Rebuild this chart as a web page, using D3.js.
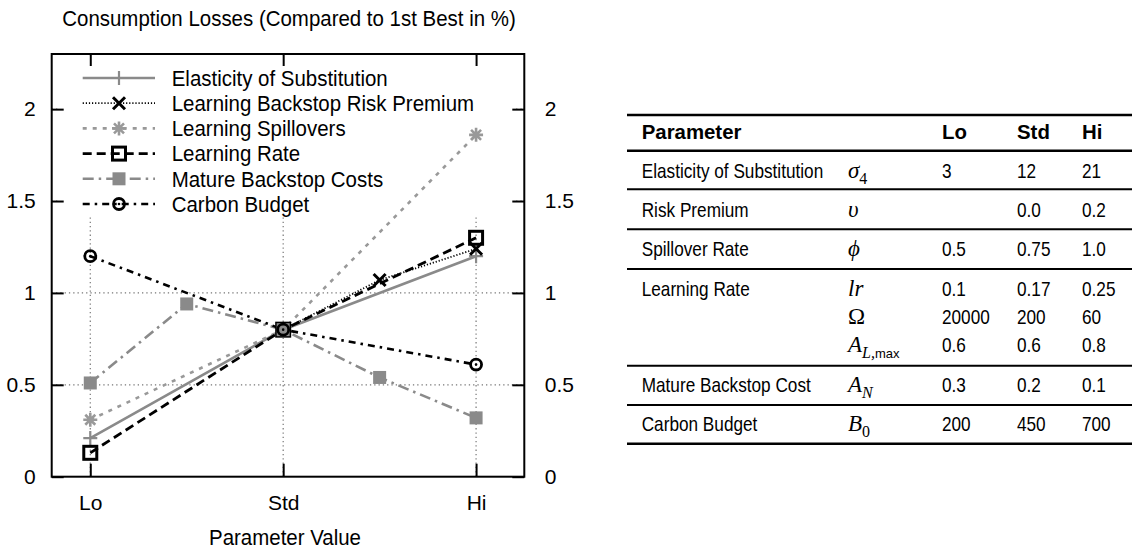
<!DOCTYPE html>
<html>
<head>
<meta charset="utf-8">
<script src="https://cdn.jsdelivr.net/npm/d3@7"></script>
<style>
body { margin: 0; background: #fff; }
svg { display: block; font-family: "Liberation Sans", Arial, sans-serif; }
</style>
</head>
<body>
<script>
const WIDTH = 1134
const HEIGHT = 557

// --- chart values ---
const levels = ["Lo", "Std", "Hi"]
const levelPos = [0, 1, 2]
const yTicks = [0, 0.5, 1, 1.5, 2]

const seriesNames = ["Elasticity of Substitution", "Learning Backstop Risk Premium", "Learning Spillovers",
  "Learning Rate", "Mature Backstop Costs", "Carbon Budget"]

const elasticityX = [0, 1, 2]
const elasticityY = [0.21, 0.8, 1.2]
const riskPremiumX = [1, 1.5, 2]
const riskPremiumY = [0.8, 1.07, 1.24]
const spilloverX = [0, 1, 2]
const spilloverY = [0.31, 0.8, 1.86]
const learningRateX = [0, 1, 2]
const learningRateY = [0.13, 0.8, 1.3]
const matureX = [0, 0.5, 1, 1.5, 2]
const matureY = [0.51, 0.94, 0.8, 0.54, 0.32]
const carbonX = [0, 1, 2]
const carbonY = [1.2, 0.8, 0.61]

// --- table values ---
const tableHead = ["Parameter", "", "Lo", "Std", "Hi"]
const paramNames = ["Elasticity of Substitution", "Risk Premium", "Spillover Rate", "Learning Rate", "Mature Backstop Cost", "Carbon Budget"]
const paramSymbols = [
  [["σ4"]],
  [["υ"]],
  [["ϕ"]],
  [["lr"], ["Ω"], ["AL,max"]],
  [["AN"]],
  [["B0"]]
]
const loValues = [["3"], [""], ["0.5"], ["0.1", "20000", "0.6"], ["0.3"], ["200"]]
const stdValues = [["12"], ["0.0"], ["0.75"], ["0.17", "200", "0.6"], ["0.2"], ["450"]]
const hiValues = [["21"], ["0.2"], ["1.0"], ["0.25", "60", "0.8"], ["0.1"], ["700"]]

const svg = d3.select("body").append("svg").attr("width", WIDTH).attr("height", HEIGHT)

const x = d3.scaleLinear().domain([-0.2, 2.25]).range([51.7, 524.3])
const y = d3.scaleLinear().domain([0, 2.3]).range([476.7, 54])
const FS = 22
const SX = 0.93

// grid
const grid = svg.append("g").attr("stroke", "#777").attr("stroke-width", 1.2).attr("stroke-dasharray", "1.3,3")
grid.selectAll(".gy").data(yTicks.slice(1)).enter().append("line")
  .attr("x1", x.range()[0]).attr("x2", x.range()[1]).attr("y1", d => y(d)).attr("y2", d => y(d))
grid.selectAll(".gx").data(levelPos).enter().append("line")
  .attr("x1", d => x(d)).attr("x2", d => x(d)).attr("y1", y.range()[0]).attr("y2", y.range()[1])

// opaque key box
svg.append("rect").attr("x", 60).attr("y", 56).attr("width", 454).attr("height", 161).attr("fill", "#fff")

const styles = [
  { color: "#8a8a8a", width: 2.6, dash: null, marker: "plus" },
  { color: "#000", width: 1.8, dash: "1.2,1.9", marker: "cross" },
  { color: "#999", width: 2.6, dash: "4,6", marker: "star" },
  { color: "#000", width: 2.8, dash: "9,5", marker: "square" },
  { color: "#8a8a8a", width: 2.6, dash: "11,5,2.5,5", marker: "filled" },
  { color: "#000", width: 2.6, dash: "7,5,2.5,5", marker: "circle" }
]
const seriesData = [
  d3.zip(elasticityX, elasticityY),
  d3.zip(riskPremiumX, riskPremiumY),
  d3.zip(spilloverX, spilloverY),
  d3.zip(learningRateX, learningRateY),
  d3.zip(matureX, matureY),
  d3.zip(carbonX, carbonY)
]

function marker(g, type, cx, cy, color) {
  const m = g.append("g").attr("transform", `translate(${cx},${cy})`)
  if (type == "plus") {
    m.append("path").attr("d", "M-7,0H7M0,-7V7").attr("stroke", color).attr("stroke-width", 2.2)
  } else if (type == "cross") {
    m.append("path").attr("d", "M-6,-6L6,6M-6,6L6,-6").attr("stroke", color).attr("stroke-width", 3)
  } else if (type == "star") {
    m.append("path").attr("d", "M-7,0H7M0,-7V7M-5,-5L5,5M-5,5L5,-5").attr("stroke", color).attr("stroke-width", 2.6)
  } else if (type == "square") {
    m.append("rect").attr("x", -6.5).attr("y", -6.5).attr("width", 13).attr("height", 13)
      .attr("fill", "none").attr("stroke", color).attr("stroke-width", 3)
  } else if (type == "filled") {
    m.append("rect").attr("x", -6.5).attr("y", -6.5).attr("width", 13).attr("height", 13).attr("fill", color)
  } else if (type == "circle") {
    m.append("circle").attr("r", 5.5).attr("fill", "none").attr("stroke", color).attr("stroke-width", 2.8)
    m.append("circle").attr("r", 1.3).attr("fill", color)
  }
}

const line = d3.line().x(d => x(d[0])).y(d => y(d[1]))
const lines = svg.append("g")
seriesData.forEach((data, i) => {
  const s = styles[i]
  lines.append("path").datum(data).attr("d", line).attr("fill", "none")
    .attr("stroke", s.color).attr("stroke-width", s.width).attr("stroke-dasharray", s.dash)
})
const marks = svg.append("g")
seriesData.forEach((data, i) => {
  data.forEach(d => marker(marks, styles[i].marker, x(d[0]), y(d[1]), styles[i].color))
})

// chart text, slightly narrowed like the original
function label(g, str, tx, ty, anchor) {
  return g.append("text").attr("transform", `translate(${tx},${ty}) scale(${SX},1)`)
    .attr("text-anchor", anchor || "start").attr("font-size", FS).text(str)
}

// legend
const legend = svg.append("g")
seriesNames.forEach((name, i) => {
  const s = styles[i]
  const ly = 78 + i * 25.2
  legend.append("line").attr("x1", 82.7).attr("x2", 155).attr("y1", ly).attr("y2", ly)
    .attr("stroke", s.color).attr("stroke-width", s.width).attr("stroke-dasharray", s.dash)
  marker(legend, s.marker, 119, ly, s.color)
  label(legend, name, 171.7, ly + 7.8)
})

// axes
function styleAxis(g) {
  g.select(".domain").remove()
  g.selectAll(".tick line").attr("stroke", "#000").attr("stroke-width", 2)
  g.selectAll("text").attr("font-size", 21).attr("fill", "#000").attr("font-family", null)
}
const fmt = d3.format("~g")
svg.append("g").attr("transform", `translate(${x.range()[0]},0)`)
  .call(d3.axisLeft(y).tickValues(yTicks).tickFormat(fmt).tickSize(-12).tickPadding(16)).call(styleAxis)
svg.append("g").attr("transform", `translate(${x.range()[1]},0)`)
  .call(d3.axisRight(y).tickValues(yTicks).tickFormat(fmt).tickSize(-12).tickPadding(20.5)).call(styleAxis)
svg.append("g").attr("transform", `translate(0,${y.range()[0]})`)
  .call(d3.axisBottom(x).tickValues(levelPos).tickFormat((d, i) => levels[i]).tickSize(-13).tickPadding(18)).call(styleAxis)
svg.append("g").attr("transform", `translate(0,${y.range()[1]})`)
  .call(d3.axisTop(x).tickValues(levelPos).tickFormat("").tickSize(-12)).call(styleAxis)

svg.append("rect").attr("x", x.range()[0]).attr("y", y.range()[1])
  .attr("width", x.range()[1] - x.range()[0]).attr("height", y.range()[0] - y.range()[1])
  .attr("fill", "none").attr("stroke", "#000").attr("stroke-width", 2)

label(svg, "Consumption Losses (Compared to 1st Best in %)", 289, 26, "middle")
label(svg, "Parameter Value", 285, 545, "middle")

// --- table ---
const tbl = svg.append("g")
const colX = [641.7, 848, 942, 1017, 1082]
const TL = 627, TR = 1132
const rules = [[115, 2.6], [150.7, 2.6], [189.3, 2], [229.3, 2], [269, 2], [365.7, 2], [405, 2], [443.7, 2.6]]
rules.forEach(r => tbl.append("line").attr("x1", TL).attr("x2", TR).attr("y1", r[0]).attr("y2", r[0])
  .attr("stroke", "#000").attr("stroke-width", r[1]))

function cell(str, cx, by, opts) {
  const t = tbl.append("text").attr("transform", `translate(${cx},${by}) scale(${opts.sx || 0.86},1)`)
    .attr("font-size", opts.size || 20).text(str)
  if (opts.bold) t.attr("font-weight", "bold")
  return t
}
tableHead.forEach((h, i) => { if (h) cell(h, colX[i], 138.5, { bold: true, size: 20, sx: 1.02 }) })

const rowBase = [178, 216.5, 256, 296, 392, 431]
const subStep = 27.8

function symbol(spec, cx, by) {
  const t = tbl.append("text").attr("x", cx).attr("y", by)
    .attr("font-family", "'Liberation Serif', 'DejaVu Serif', serif").attr("font-size", 23)
  const s = spec[0]
  const main = s[0]
  const sub = s.slice(1)
  if (main == "Ω") t.append("tspan").text(main)
  else if (main == "l") { t.append("tspan").attr("font-style", "italic").text(s) ; return }
  else t.append("tspan").attr("font-style", "italic").text(main)
  if (!sub) return
  if (sub == "L,max") {
    t.append("tspan").attr("font-style", "italic").attr("font-size", 16).attr("dy", 6).text("L,")
    t.append("tspan").attr("font-family", "'Liberation Sans', Arial, sans-serif").attr("font-size", 13).text("max")
  } else if (/\d/.test(sub)) {
    t.append("tspan").attr("font-size", 16).attr("dy", 6).text(sub)
  } else {
    t.append("tspan").attr("font-style", "italic").attr("font-size", 16).attr("dy", 6).text(sub)
  }
}

paramNames.forEach((name, r) => {
  const by = rowBase[r]
  cell(name, colX[0], by, {})
  paramSymbols[r].forEach((sym, k) => symbol(sym, colX[1], by + k * subStep))
  loValues[r].forEach((v, k) => { if (v) cell(v, colX[2], by + k * subStep, {}) })
  stdValues[r].forEach((v, k) => cell(v, colX[3], by + k * subStep, {}))
  hiValues[r].forEach((v, k) => cell(v, colX[4], by + k * subStep, {}))
})
</script>
</body>
</html>
